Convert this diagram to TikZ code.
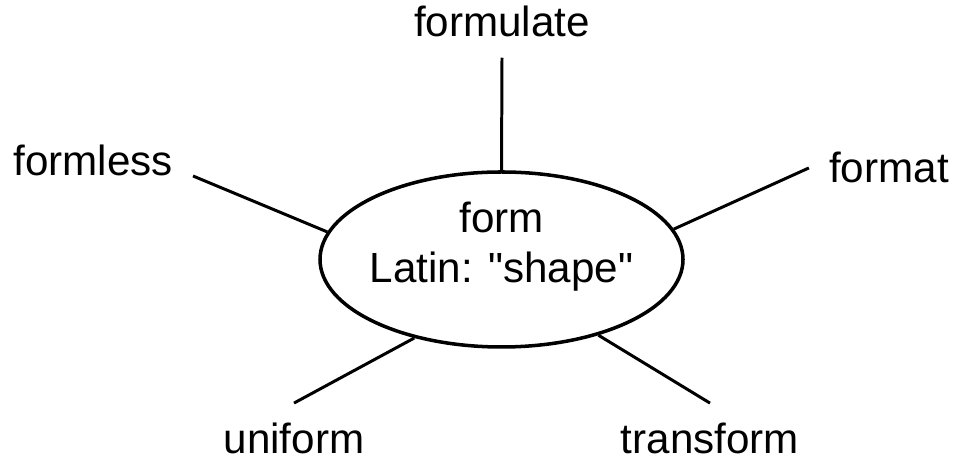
\documentclass[tikz,border=0pt]{standalone}
\usepackage{fontspec}
\setmainfont{Liberation Sans}
\usetikzlibrary{shapes.geometric,positioning}

\begin{document}
\begin{tikzpicture}[
  word/.style={inner sep=0.4cm, anchor=base,
               font=\fontsize{24}{28.5}\selectfont},
  root/.style={draw, ellipse, line width=2pt, inner sep=0pt,
               minimum width=7.26cm, minimum height=3.5cm},
  spoke/.style={line width=1.7pt}
]
\useasboundingbox (0,0) rectangle (19.32,9.28);

% Central ellipse
\node[root] (form) at (10.03,4.09) {};
\node[align=center, font=\fontsize{24}{28.5}\selectfont] (meaning)
      at (10.03,4.34) {form\\Latin: \textquotedbl shape\textquotedbl};

% Derived words
\node[word] (formulate) at (10.04,8.54) {formulate};
\node[word] (formless)  at (1.86,5.76)  {formless};
\node[word] (format)    at (17.78,5.62) {format};
\node[word] (uniform)   at (5.88,0.2)   {uniform};
\node[word] (transform) at (14.20,0.2)  {transform};

% Spokes to the ellipse
\draw[spoke] (formulate.south)   -- (form.90);
\draw[spoke] (formless.base east) -- (form.171);
\draw[spoke] (format.west)       -- (form.10);
\draw[spoke] (uniform.north)     -- (form.222);
\draw[spoke] (transform.north)   -- (form.322);

\end{tikzpicture}
\end{document}
